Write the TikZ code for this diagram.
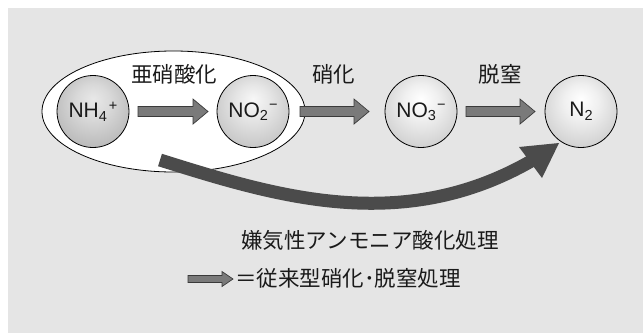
\documentclass[tikz,border=0pt]{standalone}
\usepackage{fontspec}
\setmainfont{Liberation Sans}
\newfontfamily\jp{Noto Sans CJK JP}
\usetikzlibrary{shapes.geometric,calc}
\definecolor{bg}{HTML}{E5E5E5}
\definecolor{dk}{HTML}{4B4B4B}
\definecolor{arrfill}{HTML}{7A7A7A}
\definecolor{arrdraw}{HTML}{3A3A3A}
\definecolor{txt}{HTML}{1A1A1A}
\pgfdeclareradialshading{ballA}{\pgfpoint{0bp}{9bp}}{color(0bp)=(gray!18); color(12bp)=(gray!30); color(26bp)=(gray!50); color(34bp)=(gray!60); color(50bp)=(gray!60)}
\pgfdeclareradialshading{ballB}{\pgfpoint{0bp}{9bp}}{color(0bp)=(gray!6); color(12bp)=(gray!20); color(26bp)=(gray!40); color(34bp)=(gray!52); color(50bp)=(gray!52)}
\pgfdeclareradialshading{ballC}{\pgfpoint{0bp}{9bp}}{color(0bp)=(white); color(12bp)=(gray!12); color(26bp)=(gray!32); color(34bp)=(gray!45); color(50bp)=(gray!45)}
\tikzset{
  ballnode/.style={circle, draw=black, line width=0.8pt, minimum size=72pt, inner sep=0pt, text=txt, font=\fontsize{21}{23}\selectfont},
  jplab/.style={text=txt, inner sep=0pt, font=\jp\fontsize{21.5}{24}\selectfont},
  barr/.style={fill=arrfill, draw=arrdraw, line width=0.7pt, line join=miter},
}
\newcommand\sbs[1]{\raisebox{-3.5pt}{\fontsize{14.5}{14.5}\selectfont #1}}
\newcommand\sps[1]{\raisebox{7.5pt}{\fontsize{14.5}{14.5}\selectfont #1}}
% x1, x2, y, shaft half, head half, head length
\newcommand\barrow[6]{\draw[barr] (#1,#3-#4) -- (#2-#6,#3-#4) -- (#2-#6,#3-#5) -- (#2,#3) -- (#2-#6,#3+#5) -- (#2-#6,#3+#4) -- (#1,#3+#4) -- cycle;}
\begin{document}
\begin{tikzpicture}[x=1pt,y=-1pt]
\useasboundingbox (0,0) rectangle (643,333);
\fill[bg] (8,8) rectangle (643,333);
% group ellipse
\node[ellipse, draw=black, line width=0.8pt, fill=white, minimum width=263pt, minimum height=121pt, inner sep=0pt] (grp) at (173.5,111.5) {};
% anammox curved arrow
\coordinate (cs) at (160,160);
\coordinate (ce) at (533,160);
\draw[dk, line width=13pt] (cs) .. controls (275,196) and (402,236) .. (ce);
\coordinate (tip) at (559,143);
\coordinate (barbA) at (519,147);
\coordinate (barbB) at (542,178);
\fill[dk] (barbA) -- (tip) -- (barbB) -- cycle;
% balls
\node[ballnode, shading=ballA] (nh)  at (93,111.5)  {NH\sbs{4}\kern2pt\sps{+}};
\node[ballnode, shading=ballB] (no2) at (253,111.5) {NO\sbs{2}\kern1pt\sps{−}};
\node[ballnode, shading=ballC] (no3) at (421,111.5) {NO\sbs{3}\kern1pt\sps{−}};
\node[ballnode, shading=ballC] (n2)  at (581,111.5) {N\sbs{2}};
% block arrows
\barrow{138}{208}{111.5}{5}{12.5}{15}
\barrow{300}{369}{111.5}{5}{12.5}{15}
\barrow{466}{535}{111.5}{5}{12.5}{15}
% labels
\node[jplab] (l1) at (174,74.5) {亜硝酸化};
\node[jplab] (l2) at (333.5,74.5) {硝化};
\node[jplab] (l3) at (500,74.5) {脱窒};
\node[jplab] (l4) at (370,240) {嫌気性アンモニア酸化処理};
% legend
\barrow{188}{233}{279}{3.5}{7.5}{11}
\node[jplab, anchor=west] (l5) at (235,278) {＝従来型硝化･脱窒処理};
\end{tikzpicture}
\end{document}
